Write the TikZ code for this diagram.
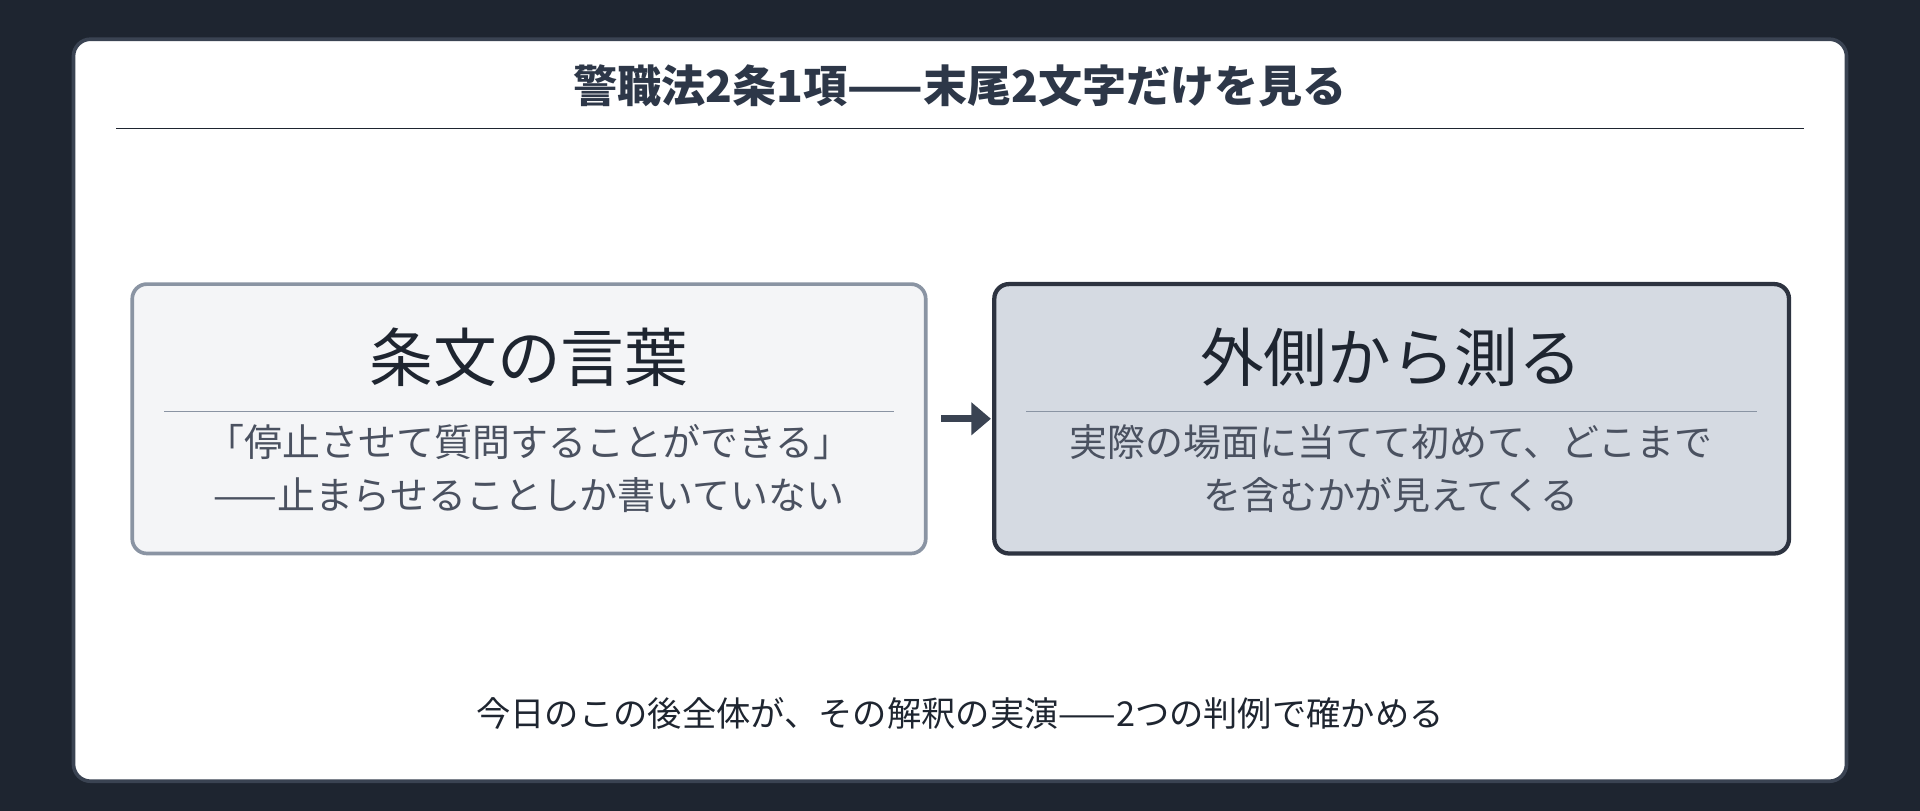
\documentclass[tikz,border=0pt]{standalone}
\usepackage{fontspec}
\setmainfont{Noto Sans CJK JP}
\usetikzlibrary{arrows.meta}
\definecolor{bg}{HTML}{1E2530}
\definecolor{cardb}{HTML}{3A4352}
\definecolor{ttl}{HTML}{2D3748}
\definecolor{lfill}{HTML}{F4F5F7}
\definecolor{lbord}{HTML}{8A94A3}
\definecolor{rfill}{HTML}{D5DAE2}
\definecolor{rbord}{HTML}{2D3340}
\definecolor{sub}{HTML}{4A5160}
\tikzset{
 box/.style={rounded corners=12pt,line width=3pt},
 big/.style={font=\fontsize{52}{60}\selectfont,text=bg,anchor=center},
 small/.style={font=\fontsize{31}{36}\selectfont,text=sub,anchor=center},
}
\begin{document}
\begin{tikzpicture}[x=1pt,y=-1pt]
\fill[bg] (0,0) rectangle (1568,662);
\useasboundingbox (0,0) rectangle (1568,662);
\node[draw=cardb,fill=white,line width=3pt,rounded corners=14pt,minimum width=1448pt,minimum height=606pt] (card) at (784,335) {};
\node[font=\fontsize{36}{42}\selectfont\bfseries,text=ttl] (title) at (784,70) {警職法2条1項——末尾2文字だけを見る};
\coordinate (r1) at (95,105); \coordinate (r2) at (1473,105);
\draw[bg,line width=1.5pt] (r1) -- (r2);
\node[box,draw=lbord,fill=lfill,minimum width=648pt,minimum height=220pt] (L) at (432,342) {};
\node[big] (Lt) at (432,292) {条文の言葉};
\coordinate (l1) at (134,336); \coordinate (l2) at (730,336);
\draw[lbord,line width=1.5pt] (l1) -- (l2);
\node[small] (La) at (432,361) {「停止させて質問することができる」};
\node[small] (Lb) at (432,404) {——止まらせることしか書いていない};
\node[box,draw=rbord,fill=rfill,line width=3.5pt,minimum width=649pt,minimum height=220pt] (R) at (1136.5,342) {};
\node[big] (Rt) at (1136,292) {外側から測る};
\coordinate (m1) at (838,336); \coordinate (m2) at (1435,336);
\draw[lbord,line width=1.5pt] (m1) -- (m2);
\node[small] (Ra) at (1136,361) {実際の場面に当てて初めて、どこまで};
\node[small] (Rb) at (1136,404) {を含むかが見えてくる};
\draw[cardb,line width=6pt,-{Triangle[length=16pt,width=26pt]}] (L.east)++(11,0) -- ([xshift=-1pt]R.west);
\node[font=\fontsize{28}{34}\selectfont,text=bg] (foot) at (784,583) {今日のこの後全体が、その解釈の実演——2つの判例で確かめる};
\end{tikzpicture}
\end{document}
